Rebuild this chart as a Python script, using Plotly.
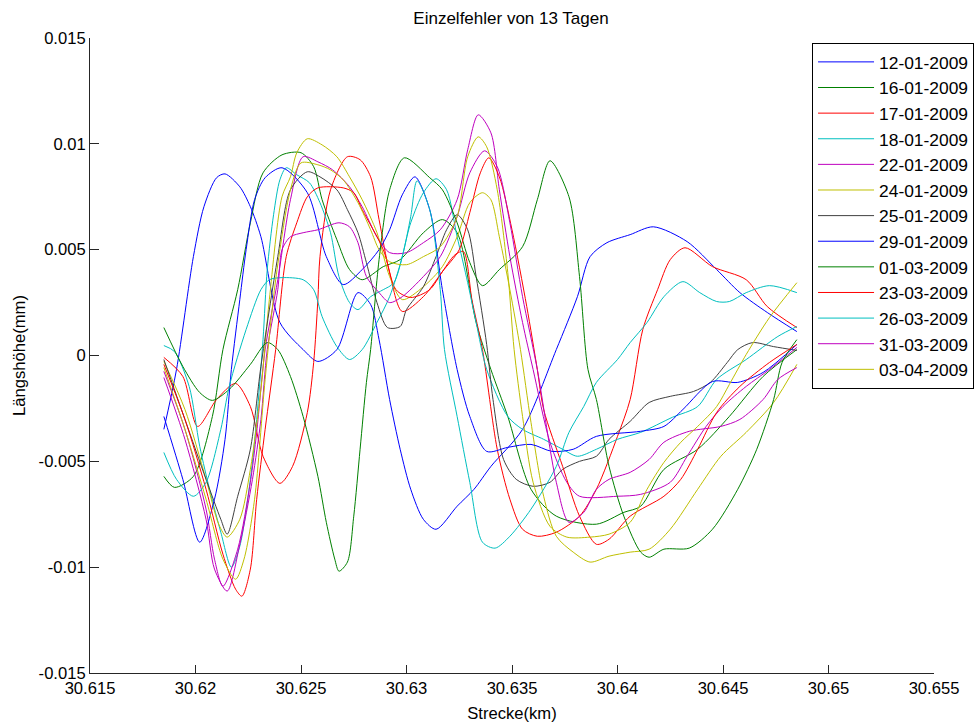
import plotly.graph_objects as go

title_text = "Einzelfehler von 13 Tagen"
x_title = "Strecke(km)"
y_title = "Längshöhe(mm)"

x_tickvals = [30.615, 30.62, 30.625, 30.63, 30.635, 30.64, 30.645, 30.65, 30.655]
x_ticktext = ["30.615", "30.62", "30.625", "30.63", "30.635", "30.64", "30.645", "30.65", "30.655"]
y_tickvals = [-0.015, -0.01, -0.005, 0, 0.005, 0.01, 0.015]
y_ticktext = ["-0.015", "-0.01", "-0.005", "0", "0.005", "0.01", "0.015"]

# 12-01-2009 (blue)
x_1201 = [30.6185, 30.6191, 30.6199, 30.6204, 30.6210, 30.6214, 30.6221, 30.6226, 30.6231, 30.6240,
          30.6251, 30.6258, 30.6267, 30.6277, 30.6283, 30.6287, 30.6292, 30.6297, 30.6302, 30.6308,
          30.6314, 30.6324, 30.6332, 30.6340, 30.6355, 30.6371, 30.6381, 30.6387, 30.6395, 30.6406,
          30.6417, 30.6433, 30.6447, 30.6458, 30.6471, 30.6485]
y_1201 = [-0.00349, -0.00066, 0.00467, 0.00703, 0.00840, 0.00858, 0.00797, 0.00703, 0.00561, 0.00156,
          0.00028, -0.00028, 0.00028, 0.00297, 0.00241, 0.00075, -0.00208, -0.00443, -0.00632, -0.00774,
          -0.00821, -0.00712, -0.00632, -0.00524, -0.00349, 0.00028, 0.00278, 0.00467, 0.00533, 0.00571,
          0.00608, 0.00538, 0.00406, 0.00297, 0.00203, 0.00113]

# 16-01-2009 (dark green)
x_1601 = [30.6185, 30.6190, 30.6199, 30.6208, 30.6213, 30.6220, 30.6226, 30.6232, 30.6241, 30.6250,
          30.6256, 30.6260, 30.6267, 30.6273, 30.6279, 30.6289, 30.6297, 30.6308, 30.6317, 30.6324,
          30.6333, 30.6340, 30.6348, 30.6359, 30.6371, 30.6390, 30.6403, 30.6411, 30.6422, 30.6438,
          30.6453, 30.6469, 30.6485]
y_1601 = [-0.00571, -0.00623, -0.00571, -0.00288, 0.00028, 0.00311, 0.00627, 0.00863, 0.00948, 0.00958,
          0.00892, 0.00736, 0.00547, 0.00406, 0.00358, 0.00420, 0.00453, 0.00580, 0.00642, 0.00580,
          0.00156, -0.00066, -0.00288, -0.00632, -0.00759, -0.00797, -0.00741, -0.00712, -0.00538, -0.00443,
          -0.00288, -0.00099, 0.00028]

# 17-01-2009 (red)
x_1701 = [30.6185, 30.6194, 30.6201, 30.6210, 30.6219, 30.6226, 30.6232, 30.6240, 30.6246, 30.6253,
          30.6256, 30.6258, 30.6259, 30.6264, 30.6272, 30.6278, 30.6283, 30.6287, 30.6292, 30.6298,
          30.6308, 30.6316, 30.6323, 30.6327, 30.6331, 30.6336, 30.6343, 30.6349, 30.6355, 30.6362,
          30.6371, 30.6382, 30.6390, 30.6400, 30.6406, 30.6412, 30.6419, 30.6425, 30.6432, 30.6445,
          30.6461, 30.6471, 30.6485]
y_1701 = [-0.00009, -0.00099, -0.00335, -0.00208, -0.00132, -0.00241, -0.00476, -0.00604, -0.00524, -0.00269,
          -0.00033, 0.00264, 0.00467, 0.00783, 0.00939, 0.00925, 0.00844, 0.00642, 0.00392, 0.00208,
          0.00278, 0.00382, 0.00476, 0.00491, 0.00264, 0.00028, -0.00443, -0.00679, -0.00821, -0.00854,
          -0.00835, -0.00759, -0.00632, -0.00382, -0.00208, 0.00123, 0.00311, 0.00453, 0.00509, 0.00420,
          0.00358, 0.00231, 0.00132]

# 18-01-2009 (teal)
x_1801 = [30.6185, 30.6190, 30.6197, 30.6202, 30.6207, 30.6212, 30.6217, 30.6221, 30.6226, 30.6229,
          30.6232, 30.6234, 30.6237, 30.6240, 30.6243, 30.6248, 30.6254, 30.6259, 30.6264, 30.6268,
          30.6273, 30.6277, 30.6283, 30.6289, 30.6294, 30.6302, 30.6308, 30.6314, 30.6319, 30.6324,
          30.6329, 30.6333, 30.6338, 30.6348, 30.6355, 30.6365, 30.6374, 30.6381, 30.6390, 30.6400,
          30.6411, 30.6426, 30.6438, 30.6447, 30.6461, 30.6476, 30.6485]
y_1801 = [0.00047, 0.00019, -0.00146, -0.00429, -0.00646, -0.00835, -0.01000, -0.00901, -0.00585, -0.00302,
          0.00075, 0.00406, 0.00665, 0.00830, 0.00887, 0.00854, 0.00816, 0.00722, 0.00580, 0.00373,
          0.00250, 0.00217, 0.00278, 0.00311, 0.00344, 0.00627, 0.00769, 0.00835, 0.00783, 0.00561,
          0.00344, 0.00156, -0.00066, -0.00288, -0.00349, -0.00396, -0.00443, -0.00476, -0.00443, -0.00396,
          -0.00363, -0.00292, -0.00241, -0.00113, -0.00019, 0.00090, 0.00137]

# 22-01-2009 (magenta)
x_2201 = [30.6185, 30.6195, 30.6205, 30.6209, 30.6213, 30.6220, 30.6226, 30.6229, 30.6233, 30.6239,
          30.6245, 30.6251, 30.6258, 30.6265, 30.6273, 30.6279, 30.6286, 30.6292, 30.6300, 30.6308,
          30.6316, 30.6324, 30.6329, 30.6334, 30.6340, 30.6344, 30.6349, 30.6355, 30.6360, 30.6368,
          30.6376, 30.6382, 30.6400, 30.6411, 30.6425, 30.6433, 30.6442, 30.6450, 30.6461, 30.6472,
          30.6485]
y_2201 = [-0.00075, -0.00349, -0.00726, -0.00962, -0.01090, -0.00915, -0.00599, -0.00363, 0.00028, 0.00358,
          0.00736, 0.00939, 0.00915, 0.00877, 0.00797, 0.00703, 0.00561, 0.00486, 0.00486, 0.00533,
          0.00594, 0.00736, 0.00972, 0.01137, 0.01052, 0.00783, 0.00467, 0.00156, -0.00066, -0.00410,
          -0.00599, -0.00665, -0.00665, -0.00656, -0.00599, -0.00476, -0.00335, -0.00241, -0.00146, -0.00066,
          0.00038]

# 24-01-2009 (olive)
x_2401 = [30.6185, 30.6195, 30.6205, 30.6211, 30.6215, 30.6221, 30.6226, 30.6231, 30.6235, 30.6241,
          30.6245, 30.6248, 30.6253, 30.6260, 30.6267, 30.6273, 30.6279, 30.6286, 30.6292, 30.6298,
          30.6308, 30.6317, 30.6324, 30.6330, 30.6336, 30.6340, 30.6344, 30.6349, 30.6354, 30.6359,
          30.6365, 30.6371, 30.6379, 30.6387, 30.6396, 30.6406, 30.6415, 30.6425, 30.6438, 30.6449,
          30.6461, 30.6474, 30.6485]
y_2401 = [-0.00028, -0.00255, -0.00585, -0.00797, -0.00858, -0.00774, -0.00538, -0.00160, 0.00264, 0.00750,
          0.00844, 0.00958, 0.01024, 0.00995, 0.00939, 0.00844, 0.00736, 0.00580, 0.00373, 0.00264,
          0.00325, 0.00420, 0.00561, 0.00722, 0.00769, 0.00736, 0.00561, 0.00311, 0.00028, -0.00316,
          -0.00665, -0.00854, -0.00929, -0.00976, -0.00948, -0.00929, -0.00915, -0.00821, -0.00632, -0.00476,
          -0.00363, -0.00222, -0.00042]

# 25-01-2009 (dark grey)
x_2501 = [30.6185, 30.6195, 30.6205, 30.6212, 30.6215, 30.6220, 30.6226, 30.6231, 30.6239, 30.6245,
          30.6253, 30.6259, 30.6267, 30.6272, 30.6277, 30.6281, 30.6286, 30.6291, 30.6297, 30.6300,
          30.6308, 30.6314, 30.6319, 30.6324, 30.6329, 30.6333, 30.6338, 30.6341, 30.6346, 30.6352,
          30.6360, 30.6368, 30.6374, 30.6382, 30.6390, 30.6396, 30.6406, 30.6415, 30.6425, 30.6436,
          30.6444, 30.6452, 30.6457, 30.6464, 30.6474, 30.6485]
y_2501 = [-0.00019, -0.00302, -0.00585, -0.00774, -0.00844, -0.00665, -0.00443, -0.00052, 0.00467, 0.00783,
          0.00868, 0.00844, 0.00783, 0.00689, 0.00580, 0.00439, 0.00250, 0.00132, 0.00137, 0.00217,
          0.00325, 0.00467, 0.00594, 0.00665, 0.00594, 0.00373, 0.00052, -0.00208, -0.00491, -0.00585,
          -0.00618, -0.00599, -0.00538, -0.00500, -0.00476, -0.00396, -0.00311, -0.00222, -0.00193, -0.00170,
          -0.00127, -0.00033, 0.00028, 0.00061, 0.00042, 0.00024]

# 29-01-2009 (blue)
x_2901 = [30.6185, 30.6194, 30.6202, 30.6209, 30.6214, 30.6217, 30.6221, 30.6224, 30.6228, 30.6233,
          30.6241, 30.6253, 30.6262, 30.6270, 30.6279, 30.6287, 30.6292, 30.6298, 30.6304, 30.6311,
          30.6317, 30.6324, 30.6330, 30.6338, 30.6348, 30.6359, 30.6369, 30.6379, 30.6390, 30.6411,
          30.6422, 30.6431, 30.6445, 30.6457, 30.6469, 30.6485]
y_2901 = [-0.00288, -0.00585, -0.00882, -0.00679, -0.00396, -0.00066, 0.00264, 0.00500, 0.00736, 0.00840,
          0.00887, 0.00769, 0.00467, 0.00335, 0.00406, 0.00500, 0.00594, 0.00759, 0.00844, 0.00689,
          0.00311, -0.00066, -0.00288, -0.00453, -0.00434, -0.00420, -0.00453, -0.00443, -0.00382, -0.00358,
          -0.00335, -0.00255, -0.00123, -0.00127, -0.00080, 0.00052]

# 01-03-2009 (green)
x_0103 = [30.6185, 30.6194, 30.6202, 30.6208, 30.6216, 30.6226, 30.6234, 30.6239, 30.6245, 30.6251,
          30.6258, 30.6262, 30.6266, 30.6268, 30.6272, 30.6275, 30.6278, 30.6281, 30.6283, 30.6287,
          30.6292, 30.6299, 30.6311, 30.6317, 30.6324, 30.6330, 30.6336, 30.6344, 30.6355, 30.6362,
          30.6368, 30.6377, 30.6382, 30.6386, 30.6390, 30.6396, 30.6403, 30.6411, 30.6415, 30.6422,
          30.6434, 30.6445, 30.6457, 30.6466, 30.6474, 30.6478, 30.6485]
y_0103 = [0.00132, -0.00052, -0.00175, -0.00212, -0.00160, -0.00042, 0.00061, 0.00028, -0.00099, -0.00288,
          -0.00571, -0.00788, -0.00962, -0.01019, -0.00976, -0.00759, -0.00443, -0.00127, 0.00028, 0.00453,
          0.00783, 0.00934, 0.00840, 0.00783, 0.00627, 0.00439, 0.00330, 0.00406, 0.00514, 0.00736,
          0.00920, 0.00750, 0.00373, -0.00066, -0.00208, -0.00524, -0.00759, -0.00929, -0.00953, -0.00915,
          -0.00910, -0.00821, -0.00632, -0.00443, -0.00208, -0.00033, 0.00075]

# 23-03-2009 (red)
x_2303 = [30.6185, 30.6195, 30.6205, 30.6213, 30.6219, 30.6222, 30.6226, 30.6229, 30.6233, 30.6238,
          30.6243, 30.6248, 30.6253, 30.6258, 30.6270, 30.6275, 30.6279, 30.6289, 30.6295, 30.6302,
          30.6311, 30.6317, 30.6325, 30.6330, 30.6335, 30.6339, 30.6344, 30.6350, 30.6357, 30.6362,
          30.6365, 30.6374, 30.6382, 30.6390, 30.6396, 30.6406, 30.6422, 30.6430, 30.6438, 30.6447,
          30.6458, 30.6472, 30.6485]
y_2303 = [-0.00042, -0.00302, -0.00632, -0.00939, -0.01104, -0.01137, -0.01009, -0.00679, -0.00349, 0.00028,
          0.00467, 0.00627, 0.00750, 0.00792, 0.00792, 0.00769, 0.00689, 0.00500, 0.00311, 0.00274,
          0.00311, 0.00396, 0.00500, 0.00675, 0.00863, 0.00934, 0.00844, 0.00594, 0.00231, -0.00066,
          -0.00255, -0.00524, -0.00759, -0.00892, -0.00868, -0.00759, -0.00665, -0.00585, -0.00443, -0.00269,
          -0.00146, -0.00033, 0.00052]

# 26-03-2009 (cyan)
x_2603 = [30.6185, 30.6191, 30.6199, 30.6205, 30.6212, 30.6216, 30.6224, 30.6231, 30.6235, 30.6241,
          30.6251, 30.6256, 30.6260, 30.6267, 30.6273, 30.6279, 30.6286, 30.6292, 30.6298, 30.6302,
          30.6305, 30.6311, 30.6316, 30.6318, 30.6324, 30.6330, 30.6336, 30.6342, 30.6349, 30.6359,
          30.6371, 30.6377, 30.6384, 30.6390, 30.6400, 30.6406, 30.6414, 30.6422, 30.6431, 30.6439,
          30.6447, 30.6453, 30.6461, 30.6472, 30.6485]
y_2603 = [-0.00458, -0.00585, -0.00665, -0.00599, -0.00349, -0.00146, 0.00123, 0.00311, 0.00358, 0.00368,
          0.00358, 0.00311, 0.00184, 0.00042, -0.00019, 0.00028, 0.00156, 0.00278, 0.00467, 0.00656,
          0.00825, 0.00689, 0.00311, 0.00028, -0.00288, -0.00599, -0.00882, -0.00910, -0.00854, -0.00726,
          -0.00524, -0.00363, -0.00241, -0.00127, -0.00019, 0.00061, 0.00156, 0.00278, 0.00349, 0.00297,
          0.00255, 0.00255, 0.00297, 0.00330, 0.00297]

# 31-03-2009 (magenta)
x_3103 = [30.6185, 30.6195, 30.6205, 30.6209, 30.6215, 30.6221, 30.6227, 30.6231, 30.6234, 30.6239,
          30.6241, 30.6245, 30.6251, 30.6258, 30.6268, 30.6273, 30.6277, 30.6281, 30.6287, 30.6292,
          30.6298, 30.6308, 30.6316, 30.6324, 30.6330, 30.6337, 30.6343, 30.6349, 30.6355, 30.6362,
          30.6371, 30.6377, 30.6384, 30.6390, 30.6396, 30.6406, 30.6415, 30.6422, 30.6434, 30.6449,
          30.6458, 30.6469, 30.6476, 30.6485]
y_3103 = [-0.00104, -0.00396, -0.00774, -0.01009, -0.01113, -0.00892, -0.00585, -0.00302, 0.00028, 0.00311,
          0.00500, 0.00561, 0.00580, 0.00594, 0.00627, 0.00608, 0.00533, 0.00373, 0.00297, 0.00250,
          0.00278, 0.00373, 0.00467, 0.00656, 0.00863, 0.00967, 0.00892, 0.00627, 0.00278, -0.00066,
          -0.00599, -0.00788, -0.00741, -0.00632, -0.00585, -0.00552, -0.00491, -0.00410, -0.00358, -0.00335,
          -0.00302, -0.00208, -0.00113, -0.00057]

# 03-04-2009 (yellow)
x_0304 = [30.6185, 30.6195, 30.6205, 30.6213, 30.6219, 30.6223, 30.6228, 30.6233, 30.6238, 30.6245,
          30.6250, 30.6258, 30.6264, 30.6270, 30.6277, 30.6283, 30.6287, 30.6292, 30.6300, 30.6308,
          30.6316, 30.6324, 30.6329, 30.6334, 30.6338, 30.6343, 30.6348, 30.6351, 30.6355, 30.6360,
          30.6368, 30.6376, 30.6387, 30.6396, 30.6406, 30.6414, 30.6422, 30.6430, 30.6438, 30.6447,
          30.6453, 30.6461, 30.6472, 30.6485]
y_0304 = [-0.00057, -0.00349, -0.00679, -0.00962, -0.01057, -0.00962, -0.00679, -0.00113, 0.00358, 0.00783,
          0.00910, 0.00901, 0.00877, 0.00830, 0.00722, 0.00594, 0.00500, 0.00443, 0.00429, 0.00467,
          0.00514, 0.00656, 0.00939, 0.01033, 0.00986, 0.00783, 0.00392, 0.00028, -0.00288, -0.00599,
          -0.00807, -0.00858, -0.00858, -0.00844, -0.00788, -0.00632, -0.00505, -0.00410, -0.00335, -0.00241,
          -0.00137, 0.00005, 0.00179, 0.00344]

series_names = ["12-01-2009", "16-01-2009", "17-01-2009", "18-01-2009", "22-01-2009", "24-01-2009",
                "25-01-2009", "29-01-2009", "01-03-2009", "23-03-2009", "26-03-2009", "31-03-2009",
                "03-04-2009"]
series_x = [x_1201, x_1601, x_1701, x_1801, x_2201, x_2401, x_2501, x_2901, x_0103, x_2303, x_2603, x_3103, x_0304]
series_y = [y_1201, y_1601, y_1701, y_1801, y_2201, y_2401, y_2501, y_2901, y_0103, y_2303, y_2603, y_3103, y_0304]
series_colors = ["#0000FF", "#008000", "#FF0000", "#00BFBF", "#BF00BF", "#BFBF00", "#404040",
                 "#0000FF", "#008000", "#FF0000", "#00BFBF", "#BF00BF", "#BFBF00"]

FONT = "Arial, Liberation Sans, Helvetica, sans-serif"
FS = 16.6

fig = go.Figure()
for name, xs, ys, col in zip(series_names, series_x, series_y, series_colors):
    fig.add_trace(go.Scatter(x=xs, y=ys, mode="lines", name=name,
                             line=dict(color=col, width=1, shape="spline", smoothing=0.8)))

fig.update_layout(
    width=978, height=725,
    margin=dict(l=90, r=44, t=38, b=52, autoexpand=False),
    paper_bgcolor="white", plot_bgcolor="white",
    font=dict(family=FONT, size=FS, color="#000000"),
    title=dict(text=title_text, x=0.5225, xanchor="center", y=0.975, yanchor="middle",
               font=dict(family=FONT, size=17, color="#000000")),
    showlegend=True,
    legend=dict(x=0.8555, xanchor="left", y=0.992, yanchor="top",
                bgcolor="white", bordercolor="#000000", borderwidth=1,
                font=dict(family=FONT, size=17.4, color="#000000"),
                tracegroupgap=0, itemwidth=56),
)
fig.update_xaxes(range=[30.615, 30.655], tickvals=x_tickvals, ticktext=x_ticktext,
                 ticks="inside", ticklen=8, tickwidth=1, tickcolor="#262626",
                 showline=True, linecolor="#262626", linewidth=1, mirror=False,
                 showgrid=False, zeroline=False,
                 title=dict(text=x_title, standoff=10, font=dict(family=FONT, size=FS)),
                 tickfont=dict(family=FONT, size=FS))
fig.update_yaxes(range=[-0.015, 0.015], tickvals=y_tickvals, ticktext=y_ticktext,
                 ticks="inside", ticklen=9, tickwidth=1, tickcolor="#262626",
                 showline=True, linecolor="#262626", linewidth=1, mirror=False,
                 showgrid=False, zeroline=False,
                 title=dict(text=y_title, standoff=8, font=dict(family=FONT, size=FS)),
                 tickfont=dict(family=FONT, size=FS))

fig.write_html("out.html")
